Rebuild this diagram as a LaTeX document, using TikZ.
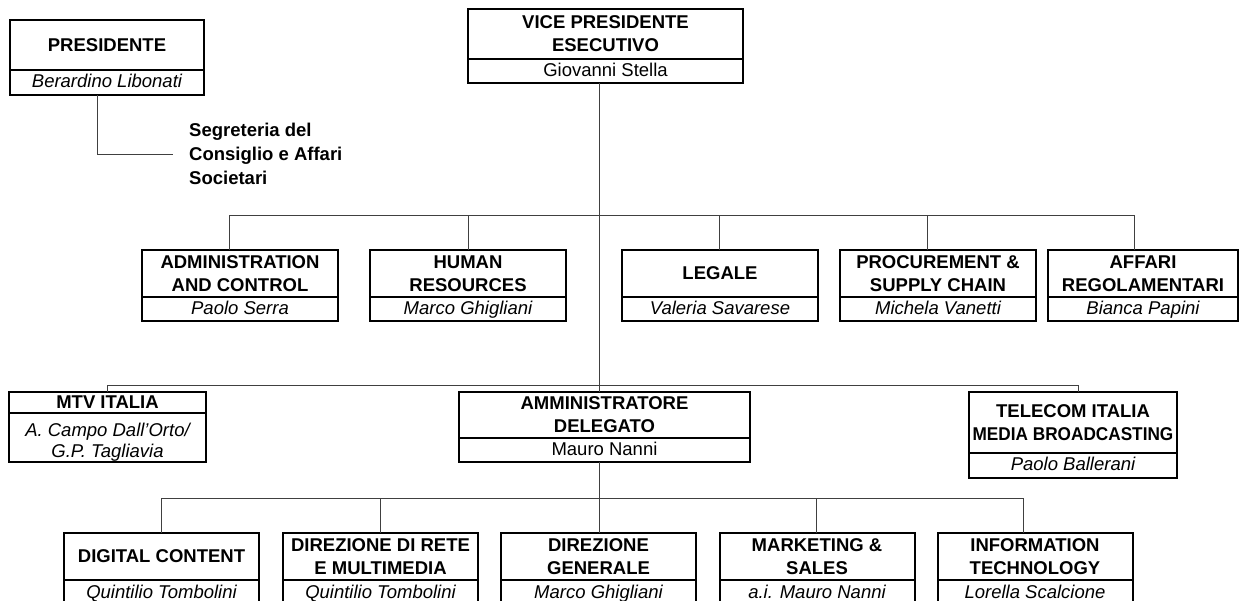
\documentclass[tikz,border=0pt]{standalone}
\usepackage{fontspec}
\setmainfont{Liberation Sans}
\usetikzlibrary{positioning}

\begin{document}
\begin{tikzpicture}[
    x=1pt, y=-1pt,
    ttl/.style={draw,line width=2pt,inner sep=0pt,outer sep=0pt,align=center,
      font={\fontsize{18.5}{23}\selectfont\bfseries}},
    box/.style={draw,line width=2pt,inner sep=0pt,outer sep=0pt,align=center},
    nm/.style={box,text height=14pt,text depth=3.5pt,
      font={\fontsize{18.5}{21}\selectfont\itshape}},
    up/.style={nm,font={\fontsize{18.5}{21}\selectfont}},
    conn/.style={line width=1pt,black!75}
  ]
  \useasboundingbox (0,0) rectangle (1242,600);
  % top
  \node[ttl,minimum width=194,minimum height=50] (pres_t) at (107,45) {PRESIDENTE};
  \node[nm,minimum width=194,minimum height=25,below=0pt of pres_t] (pres_n) {Berardino Libonati};
  \node[ttl,minimum width=275,minimum height=50] (vp_t) at (605.5,34) {VICE PRESIDENTE\\ESECUTIVO};
  \node[up,minimum width=275,minimum height=24,below=0pt of vp_t] (vp_n) {Giovanni Stella};
  \node[anchor=west,inner sep=0pt,align=left,font={\fontsize{18.5}{24}\selectfont\bfseries}]
    (seg) at (189,154) {Segreteria del\\Consiglio e Affari\\Societari};
  % row 1
  \node[ttl,minimum width=196,minimum height=47] (adm_t) at (240,273.5) {ADMINISTRATION\\AND CONTROL};
  \node[nm,minimum width=196,minimum height=24,below=0pt of adm_t] (adm_n) {Paolo Serra};
  \node[ttl,minimum width=196,minimum height=47] (hum_t) at (468,273.5) {HUMAN\\RESOURCES};
  \node[nm,minimum width=196,minimum height=24,below=0pt of hum_t] (hum_n) {Marco Ghigliani};
  \node[ttl,minimum width=196,minimum height=47] (leg_t) at (720,273.5) {LEGALE};
  \node[nm,minimum width=196,minimum height=24,below=0pt of leg_t] (leg_n) {Valeria Savarese};
  \node[ttl,minimum width=196,minimum height=47] (pro_t) at (938,273.5) {PROCUREMENT \&\\SUPPLY CHAIN};
  \node[nm,minimum width=196,minimum height=24,below=0pt of pro_t] (pro_n) {Michela Vanetti};
  \node[ttl,minimum width=190,minimum height=47] (aff_t) at (1143,273.5) {AFFARI\\REGOLAMENTARI};
  \node[nm,minimum width=190,minimum height=24,below=0pt of aff_t] (aff_n) {Bianca Papini};
  % row 2
  \node[ttl,minimum width=197,minimum height=21] (mtv_t) at (107.5,402.5) {MTV ITALIA};
  \node[box,minimum width=197,minimum height=49,below=0pt of mtv_t,
    font={\fontsize{18.5}{21.5}\selectfont\itshape}] (mtv_n)
    {\raisebox{-5pt}[\height][\depth]{\shortstack{A. Campo Dall'Orto/\\[1pt]G.P. Tagliavia}}};
  \node[ttl,minimum width=291,minimum height=46] (amm_t) at (604.5,415) {AMMINISTRATORE\\DELEGATO};
  \node[up,minimum width=291,minimum height=24,below=0pt of amm_t] (amm_n) {Mauro Nanni};
  \node[ttl,minimum width=208,minimum height=61] (tel_t) at (1073,422.5)
    {TELECOM ITALIA\\\scalebox{0.93}[1]{MEDIA BROADCASTING}};
  \node[nm,minimum width=208,minimum height=25,below=0pt of tel_t] (tel_n) {Paolo Ballerani};
  % row 3
  \node[ttl,minimum width=195,minimum height=47] (dig_t) at (161.5,556.5) {DIGITAL CONTENT};
  \node[nm,minimum width=195,minimum height=26,below=0pt of dig_t] (dig_n) {Quintilio Tombolini};
  \node[ttl,minimum width=195,minimum height=47] (ret_t) at (380.5,556.5) {DIREZIONE DI RETE\\E MULTIMEDIA};
  \node[nm,minimum width=195,minimum height=26,below=0pt of ret_t] (ret_n) {Quintilio Tombolini};
  \node[ttl,minimum width=195,minimum height=47] (gen_t) at (598.5,556.5) {DIREZIONE\\GENERALE};
  \node[nm,minimum width=195,minimum height=26,below=0pt of gen_t] (gen_n) {Marco Ghigliani};
  \node[ttl,minimum width=195,minimum height=47] (mkt_t) at (817,556.5) {MARKETING \&\\SALES};
  \node[nm,minimum width=195,minimum height=26,below=0pt of mkt_t] (mkt_n) {a.i. Mauro Nanni};
  \node[ttl,minimum width=195,minimum height=47] (it_t) at (1035,556.5) {INFORMATION\\TECHNOLOGY};
  \node[nm,minimum width=195,minimum height=26,below=0pt of it_t] (it_n) {Lorella Scalcione};
  % buses
  \coordinate (b1) at (599,215);
  \coordinate (b2) at (599,385);
  \coordinate (b3) at (599,498);
  % connectors
  \draw[conn] ([xshift=-10pt]pres_n.south) |- ([xshift=-16pt]seg.west);
  \draw[conn] (vp_n.south -| b1) -- (amm_t.north -| b2);
  \draw[conn] ([xshift=-11pt]adm_t.north) |- (b1);
  \draw[conn] (hum_t.north) |- (b1);
  \draw[conn] ([xshift=-1pt]leg_t.north) |- (b1);
  \draw[conn] ([xshift=-11pt]pro_t.north) |- (b1);
  \draw[conn] ([xshift=-9pt]aff_t.north) |- (b1);
  \draw[conn] (mtv_t.north) |- (b2);
  \draw[conn] ([xshift=5pt]tel_t.north) |- (b2);
  \draw[conn] (amm_n.south -| b3) -- (gen_t.north -| b3);
  \draw[conn] (dig_t.north) |- (b3);
  \draw[conn] (ret_t.north) |- (b3);
  \draw[conn] ([xshift=-1pt]mkt_t.north) |- (b3);
  \draw[conn] ([xshift=-12pt]it_t.north) |- (b3);
\end{tikzpicture}
\end{document}
